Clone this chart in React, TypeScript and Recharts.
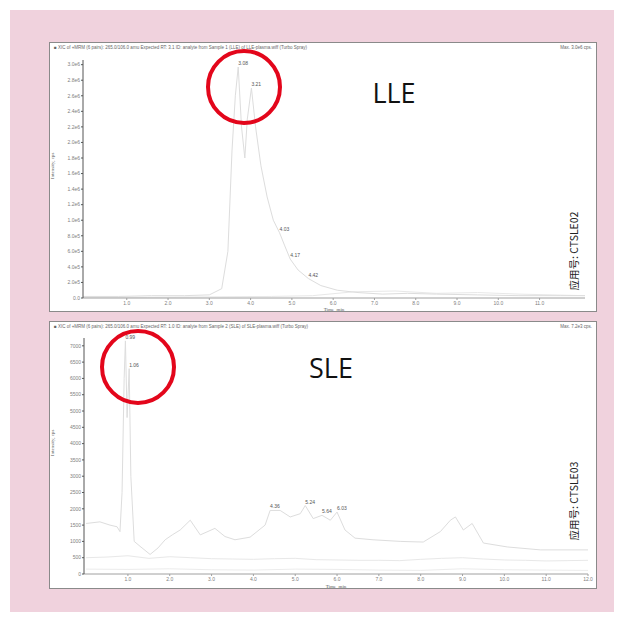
import React from 'react';
import { LineChart, Line, XAxis, YAxis, LabelList, Label } from 'recharts';

// ---------- LLE panel data ----------
const lleTime = [-0.06, 0.8, 1.6, 2.4, 3.0, 3.3, 3.45, 3.55, 3.63, 3.7, 3.78, 3.86, 3.92, 4.02, 4.12, 4.25, 4.4, 4.55, 4.7, 4.82, 4.96, 5.15, 5.4, 5.7, 6.1, 6.6, 7.2, 7.8, 8.5, 9.5, 10.5, 11.5, 12.1];
const lleIntensity = [2e4, 2e4, 3e4, 3e4, 4e4, 1.2e5, 6e5, 1.9e6, 2.6e6, 2.97e6, 2.2e6, 1.8e6, 2.3e6, 2.7e6, 2.2e6, 1.7e6, 1.3e6, 1.0e6, 8.4e5, 6.8e5, 5.0e5, 3.6e5, 2.5e5, 1.6e5, 1.0e5, 7e4, 5e4, 6e4, 5e4, 4e4, 3e4, 3e4, 3e4];
const lleTags = ['', '', '', '', '', '', '', '', '', '3.08', '', '', '', '3.21', '', '', '', '', '4.03', '', '4.17', '', '4.42', '', '', '', '', '', '', '', '', '', ''];
const lleLowTime = [-0.06, 1.5, 3.0, 4.5, 5.5, 6.5, 7.5, 8.5, 9.5, 10.5, 11.3, 12.1];
const lleLow = [1e4, 1e4, 1.5e4, 2e4, 3e4, 8e4, 9e4, 6e4, 7e4, 5e4, 4e4, 3e4];
const lleXTicks = [1, 2, 3, 4, 5, 6, 7, 8, 9, 10, 11];
const lleYTicks = [0, 2e5, 4e5, 6e5, 8e5, 1e6, 1.2e6, 1.4e6, 1.6e6, 1.8e6, 2e6, 2.2e6, 2.4e6, 2.6e6, 2.8e6, 3e6];

// ---------- SLE panel data ----------
const sleTime = [0.0, 0.33, 0.57, 0.74, 0.81, 0.86, 0.91, 0.94, 0.98, 1.03, 1.07, 1.15, 1.29, 1.53, 1.72, 1.89, 2.06, 2.25, 2.49, 2.73, 3.08, 3.32, 3.56, 3.92, 4.28, 4.4, 4.64, 4.88, 5.12, 5.24, 5.43, 5.64, 5.84, 6.0, 6.19, 6.43, 6.86, 7.51, 8.06, 8.47, 8.71, 8.83, 9.02, 9.23, 9.5, 10.07, 10.86, 12.0];
const sleIntensity = [1550, 1600, 1500, 1450, 1300, 2500, 6000, 7150, 4800, 6300, 3000, 1000, 850, 600, 800, 1050, 1200, 1350, 1650, 1200, 1400, 1150, 1050, 1130, 1500, 1950, 1950, 1750, 1850, 2100, 1700, 1800, 1650, 1900, 1350, 1100, 1050, 1000, 980, 1300, 1650, 1750, 1350, 1550, 950, 830, 740, 740];
const sleTags = ['', '', '', '', '', '', '', '0.99', '', '1.06', '', '', '', '', '', '', '', '', '', '', '', '', '', '', '', '4.36', '', '', '', '5.24', '', '5.64', '', '6.03', '', '', '', '', '', '', '', '', '', '', '', '', '', ''];
const sleMidTime = [0.0, 0.5, 1.0, 1.5, 2.0, 2.5, 3.0, 3.5, 4.0, 4.5, 5.0, 5.5, 6.0, 6.5, 7.0, 7.5, 8.0, 8.5, 9.0, 9.5, 10.0, 10.5, 11.0, 11.5, 12.0];
const sleMid = [500, 520, 560, 480, 530, 500, 470, 460, 450, 470, 480, 440, 430, 420, 420, 410, 450, 480, 500, 460, 430, 420, 400, 410, 420];
const sleLowTime = [0.0, 1.0, 2.0, 3.0, 4.0, 5.0, 6.0, 7.0, 8.0, 9.0, 10.0, 11.0, 12.0];
const sleLow = [150, 140, 160, 130, 120, 150, 140, 120, 110, 160, 130, 120, 110];
const sleXTicks = [1, 2, 3, 4, 5, 6, 7, 8, 9, 10, 11, 12];
const sleYTicks = [0, 500, 1000, 1500, 2000, 2500, 3000, 3500, 4000, 4500, 5000, 5500, 6000, 6500, 7000];

const lleData = lleTime.map((t, i) => ({ t, v: lleIntensity[i], tag: lleTags[i] }));
const lleLowData = lleLowTime.map((t, i) => ({ t, v: lleLow[i] }));
const sleData = sleTime.map((t, i) => ({ t, v: sleIntensity[i], tag: sleTags[i] }));
const sleMidData = sleMidTime.map((t, i) => ({ t, v: sleMid[i] }));
const sleLowData = sleLowTime.map((t, i) => ({ t, v: sleLow[i] }));

const TRACE = '#dddddd';
const TICK = { fontSize: 5, fill: '#808080', fontFamily: 'Arial, Liberation Sans, sans-serif' };

const PeakLabel = (p: any) => {
  if (!p.value) return null;
  return (
    <text x={p.x} y={p.y - 2} fontSize={5} fill="#555" textAnchor="start" fontFamily="Liberation Sans, Arial, sans-serif">
      {p.value}
    </text>
  );
};

const fmtE = (v: number) => {
  if (v === 0) return '0.0';
  const e = Math.floor(Math.log10(v));
  const m = v / Math.pow(10, e);
  return `${m.toFixed(1)}e${e}`;
};

const panelStyle: React.CSSProperties = {
  position: 'absolute',
  left: 49,
  width: 548,
  background: '#fff',
  border: '1px solid #8a8a8a',
  boxSizing: 'border-box',
};

const headerStyle: React.CSSProperties = {
  position: 'absolute',
  top: 2,
  fontSize: 4.5,
  color: '#666',
  fontFamily: 'Liberation Sans, Arial, sans-serif',
  whiteSpace: 'nowrap',
};

export default function App() {
  return (
    <div style={{ position: 'absolute', left: 0, top: 0, width: 624, height: 621, background: '#fff', overflow: 'hidden' }}>
      <div style={{ position: 'absolute', left: 10, top: 10, width: 604, height: 602, background: '#f0d2dd' }} />

      {/* LLE panel */}
      <div style={{ ...panelStyle, top: 42, height: 270 }}>
        <div style={{ ...headerStyle, left: 4 }}>■ XIC of +MRM (6 pairs): 265.0/106.0 amu Expected RT: 3.1 ID: analyte from Sample 1 (LLE) of LLE-plasma.wiff (Turbo Spray)</div>
        <div style={{ ...headerStyle, right: 4 }}>Max. 3.0e6 cps.</div>
        <LineChart width={546} height={268} margin={{ top: 17, right: 11, bottom: 0, left: 0 }}>
          <XAxis
            type="number"
            dataKey="t"
            domain={[-0.06, 12.1]}
            ticks={lleXTicks}
            tickFormatter={(v: number) => v.toFixed(1)}
            tick={TICK}
            tickSize={2}
            tickMargin={1}
            height={13}
            stroke="#a0a0a0"
            allowDataOverflow
          >
            <Label value="Time, min" position="insideBottom" offset={0} style={{ fontSize: 5, fill: '#555' }} />
          </XAxis>
          <YAxis
            type="number"
            domain={[0, 3.06e6]}
            ticks={lleYTicks}
            tickFormatter={fmtE}
            tick={TICK}
            tickSize={2}
            tickMargin={1}
            width={33}
            stroke="#555"
            allowDataOverflow
          >
            <Label value="Intensity, cps" angle={-90} position="insideLeft" offset={2} style={{ fontSize: 5, fill: '#555' }} />
          </YAxis>
          <Line data={lleLowData} dataKey="v" stroke="#e8e8e8" strokeWidth={1} dot={false} isAnimationActive={false} type="linear" />
          <Line data={lleData} dataKey="v" stroke={TRACE} strokeWidth={1} dot={false} isAnimationActive={false} type="linear">
            <LabelList dataKey="tag" content={PeakLabel} />
          </Line>
        </LineChart>
      </div>

      {/* SLE panel */}
      <div style={{ ...panelStyle, top: 321, height: 268 }}>
        <div style={{ ...headerStyle, left: 4 }}>■ XIC of +MRM (6 pairs): 265.0/106.0 amu Expected RT: 1.0 ID: analyte from Sample 2 (SLE) of SLE-plasma.wiff (Turbo Spray)</div>
        <div style={{ ...headerStyle, right: 4 }}>Max. 7.2e3 cps.</div>
        <LineChart width={546} height={266} margin={{ top: 16, right: 8, bottom: 0, left: 0 }}>
          <XAxis
            type="number"
            dataKey="t"
            domain={[-0.05, 12]}
            ticks={sleXTicks}
            tickFormatter={(v: number) => v.toFixed(1)}
            tick={TICK}
            tickSize={2}
            tickMargin={1}
            height={14}
            stroke="#a0a0a0"
            allowDataOverflow
          >
            <Label value="Time, min" position="insideBottom" offset={0} style={{ fontSize: 5, fill: '#555' }} />
          </XAxis>
          <YAxis
            type="number"
            domain={[0, 7240]}
            ticks={sleYTicks}
            tick={TICK}
            tickSize={2}
            tickMargin={1}
            width={34}
            stroke="#555"
            allowDataOverflow
          >
            <Label value="Intensity, cps" angle={-90} position="insideLeft" offset={2} style={{ fontSize: 5, fill: '#555' }} />
          </YAxis>
          <Line data={sleLowData} dataKey="v" stroke="#ececec" strokeWidth={1} dot={false} isAnimationActive={false} type="linear" />
          <Line data={sleMidData} dataKey="v" stroke="#e8e8e8" strokeWidth={1} dot={false} isAnimationActive={false} type="linear" />
          <Line data={sleData} dataKey="v" stroke={TRACE} strokeWidth={1} dot={false} isAnimationActive={false} type="linear">
            <LabelList dataKey="tag" content={PeakLabel} />
          </Line>
        </LineChart>
      </div>

      {/* annotations */}
      <svg width={624} height={621} style={{ position: 'absolute', left: 0, top: 0, pointerEvents: 'none' }}>
        <circle cx={244} cy={87} r={36} fill="none" stroke="#e3061b" strokeWidth={4} />
        <circle cx={138} cy={367} r={36} fill="none" stroke="#e3061b" strokeWidth={4} />
        <text x={394} y={103} fontSize={27} textAnchor="middle" fill="#111" fontFamily="Open Sans, Noto Sans, sans-serif">LLE</text>
        <text x={331} y={378} fontSize={27} textAnchor="middle" fill="#111" fontFamily="Open Sans, Noto Sans, sans-serif">SLE</text>
        <text x={578} y={251} fontSize={10.5} textAnchor="middle" fill="#222" transform="rotate(-90 578 251)" fontFamily="Noto Sans CJK SC, sans-serif">应用号: CTSLE02</text>
        <text x={578} y={501} fontSize={10.5} textAnchor="middle" fill="#222" transform="rotate(-90 578 501)" fontFamily="Noto Sans CJK SC, sans-serif">应用号: CTSLE03</text>
      </svg>
    </div>
  );
}
